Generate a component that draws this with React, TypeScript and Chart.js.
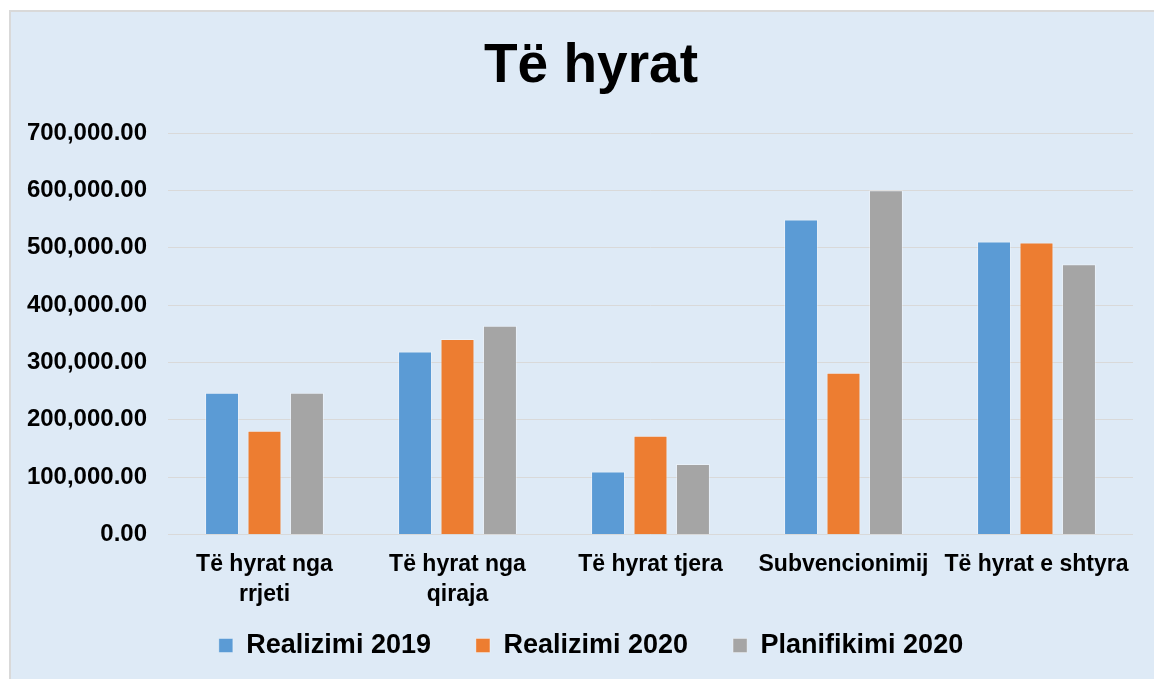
import React, { useEffect, useRef } from "react";
import { Chart, registerables } from "chart.js";

Chart.register(...registerables);

const categories: (string | string[])[] = [
  ["Të hyrat nga", "rrjeti"],
  ["Të hyrat nga", "qiraja"],
  "Të hyrat tjera",
  "Subvencionimij",
  "Të hyrat e shtyra",
];
const realizimi2019 = [247000, 319000, 110000, 549000, 511000];
const realizimi2020 = [181000, 341000, 172000, 282000, 509000];
const planifikimi2020 = [247000, 364000, 123000, 600000, 471000];
const seriesNames = ["Realizimi 2019", "Realizimi 2020", "Planifikimi 2020"];
const yMin = 0;
const yMax = 700000;
const yStep = 100000;
const titleText = "Të hyrat";

const FONT = "'Liberation Sans', Arial, sans-serif";

export default function App() {
  const ref = useRef<HTMLCanvasElement | null>(null);

  useEffect(() => {
    if (!ref.current) return;
    const noClip = (scale: any) => {
      scale._computeLabelArea = () => undefined;
    };
    const chart = new Chart(ref.current, {
      type: "bar",
      data: {
        labels: categories,
        datasets: [
          {
            label: seriesNames[0],
            data: realizimi2019,
            backgroundColor: "#5B9BD5",
            borderColor: "rgba(255,255,255,0.35)",
            borderWidth: 1,
          },
          {
            label: seriesNames[1],
            data: realizimi2020,
            backgroundColor: "#ED7D31",
            borderColor: "rgba(255,255,255,0.35)",
            borderWidth: 1,
          },
          {
            label: seriesNames[2],
            data: planifikimi2020,
            backgroundColor: "#A5A5A5",
            borderColor: "rgba(255,255,255,0.35)",
            borderWidth: 1,
          },
        ],
      },
      options: {
        responsive: false,
        animation: false,
        maintainAspectRatio: false,
        layout: { padding: { top: 20, left: 49, right: 21, bottom: 10 } },
        datasets: {
          bar: { categoryPercentage: 0.66, barPercentage: 0.8 },
        },
        plugins: {
          title: {
            display: true,
            text: titleText,
            color: "#000",
            font: { family: FONT, size: 55, weight: "bold", lineHeight: 1.2 },
            padding: { top: 14, bottom: 33 },
          },
          legend: {
            display: true,
            position: "bottom",
            labels: {
              color: "#000",
              boxWidth: 14,
              boxHeight: 14,
              padding: 45,
              font: { family: FONT, size: 27, weight: "bold" },
            },
          },
          tooltip: { enabled: false },
        },
        scales: {
          x: {
            grid: { display: false },
            border: { display: false },
            ticks: {
              color: "#000",
              padding: 7,
              maxRotation: 0,
              autoSkip: false,
              font: { family: FONT, size: 23, weight: "bold", lineHeight: 1.3 },
            },
            afterFit: (scale: any) => {
              scale.height = 52.5;
              noClip(scale);
            },
          },
          y: {
            min: yMin,
            max: yMax,
            grid: { color: "#D9D9D9", lineWidth: 1, drawTicks: false },
            border: { display: false },
            ticks: {
              stepSize: yStep,
              color: "#000",
              padding: 21,
              font: { family: FONT, size: 24, weight: "bold" },
              callback: (v: any) =>
                Number(v).toLocaleString("en-US", {
                  minimumFractionDigits: 2,
                  maximumFractionDigits: 2,
                }),
            },
            afterFit: (scale: any) => {
              scale.width = 119;
              noClip(scale);
            },
          },
        },
      },
    });
    return () => chart.destroy();
  }, []);

  return (
    <div style={{ position: "fixed", left: 0, top: 0, width: 1154, height: 679, background: "#fff", overflow: "hidden" }}>
      <div
        style={{
          position: "absolute",
          left: 9,
          top: 10,
          right: 0,
          bottom: 0,
          background: "#DEEAF6",
          borderTop: "2px solid #D9D9D9",
          borderLeft: "2px solid #D9D9D9",
        }}
      />
      <canvas ref={ref} width={1154} height={679} style={{ position: "absolute", left: 0, top: 0 }} />
    </div>
  );
}
